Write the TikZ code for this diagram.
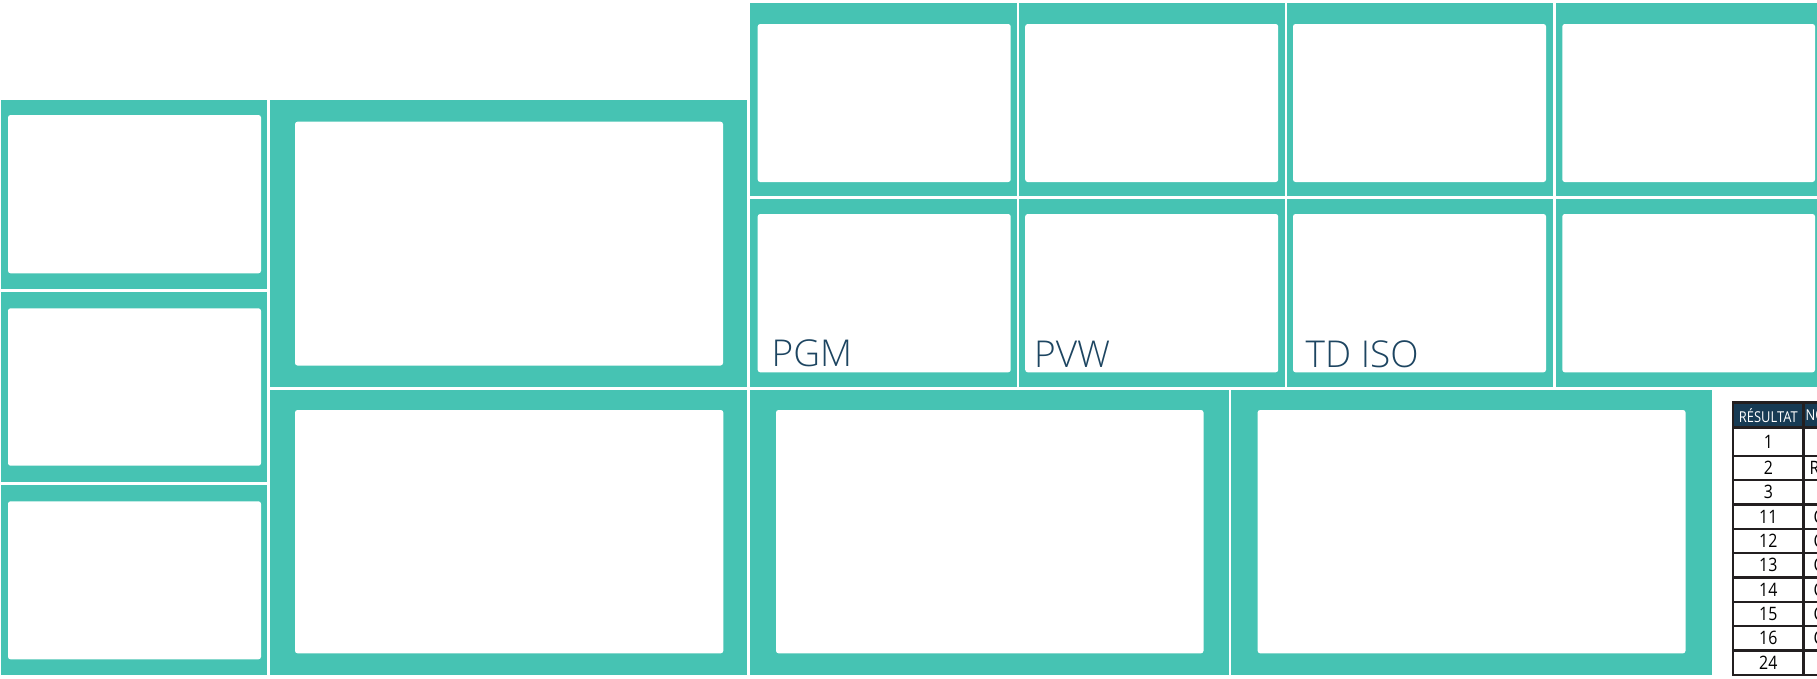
\documentclass[tikz,border=0pt]{standalone}
\usepackage{fontspec}
\setmainfont{Open Sans}
\newfontfamily\lblfont{Open Sans}[UprightFont=* Light]
\newfontfamily\tabfont{Open Sans}[FakeStretch=0.86]
\definecolor{teal}{HTML}{46C3B3}
\definecolor{lblcol}{HTML}{1D4561}
\definecolor{navy}{HTML}{173B54}
\definecolor{tabline}{HTML}{231F20}
\tikzset{
  outerbox/.style={fill=teal},
  innerbox/.style={fill=white, rounded corners=2.5pt},
  lbl/.style={anchor=base west, inner sep=0pt, text=lblcol, font=\lblfont\fontsize{37}{40}\selectfont},
  tabline/.style={draw=tabline, line width=2.5pt},
  hdr/.style={inner sep=0pt, text=white, font=\tabfont\fontsize{15}{17}\selectfont},
  cell/.style={inner sep=0pt, text=black, font=\tabfont\fontsize{18.5}{20}\selectfont},
  cellw/.style={anchor=west, inner sep=0pt, text=black, font=\tabfont\fontsize{18.5}{20}\selectfont}
}
\begin{document}
\begin{tikzpicture}[x=1pt,y=-1pt]
\useasboundingbox (0,0) rectangle (1817,678);
\clip (0,0) rectangle (1817,678);
% left column
\path[outerbox] (1,99.5) rectangle (267.3,289);
\path[innerbox] (8,115) rectangle (261,273.3);
\path[outerbox] (1,291.7) rectangle (267.3,481.7);
\path[innerbox] (8,308.3) rectangle (261,465.7);
\path[outerbox] (1,485.3) rectangle (267.3,675);
\path[innerbox] (8,501.3) rectangle (261,659.3);
% big boxes
\path[outerbox] (269.5,99.5) rectangle (747,387.3);
\path[innerbox] (295,121.7) rectangle (723,365.5);
\path[outerbox] (269.5,390.3) rectangle (747,675);
\path[innerbox] (295,410) rectangle (723.3,653.3);
\path[outerbox] (750,390.3) rectangle (1228.5,675);
\path[innerbox] (776,410) rectangle (1203.5,653.3);
\path[outerbox] (1231.3,390.3) rectangle (1712,675);
\path[innerbox] (1257.6,410) rectangle (1685.5,653.3);
% top grid, row 1
\path[outerbox] (750,3.3) rectangle (1016.5,195.7);
\path[innerbox] (757.7,24) rectangle (1010.7,182);
\path[outerbox] (1019.3,3.3) rectangle (1284.5,195.7);
\path[innerbox] (1025.2,24) rectangle (1278.2,182);
\path[outerbox] (1287.2,3.3) rectangle (1552.8,195.7);
\path[innerbox] (1293,24) rectangle (1546,182);
\path[outerbox] (1555.7,3.3) rectangle (1820,195.7);
\path[innerbox] (1562.3,24) rectangle (1815,182);
% top grid, row 2
\path[outerbox] (750,198.5) rectangle (1016.5,387.3);
\path[innerbox] (757.7,214) rectangle (1010.7,372.3);
\path[outerbox] (1019.3,198.5) rectangle (1284.5,387.3);
\path[innerbox] (1025.2,214) rectangle (1278.2,372.3);
\path[outerbox] (1287.2,198.5) rectangle (1552.8,387.3);
\path[innerbox] (1293,214) rectangle (1546,372.3);
\path[outerbox] (1555.7,198.5) rectangle (1820,387.3);
\path[innerbox] (1562.3,214) rectangle (1815,372.3);
% labels
\node[lbl] (pgm) at (771.5,366.7) {PGM};
\node[lbl] (pvw) at (1034,367.3) {PVW};
\node[lbl] (tdiso) at (1305.5,367) {TD ISO};
% table
\path[fill=navy] (1733,402.7) rectangle (1820,427.5);
\draw[tabline] (1820,402.7) -- (1733.2,402.7) -- (1733.2,674.8) -- (1820,674.8);
\draw[tabline] (1803.5,402.7) -- (1803.5,674.8);
\draw[tabline] (1733.2,427.5) -- (1820,427.5);
\foreach \i in {0,...,8} {
  \draw[tabline] (1733.2,455.8+24.33*\i) -- (1820,455.8+24.33*\i);
}
\node[hdr] (h1) at (1768.3,415.5) {RÉSULTAT};
\node[hdr, anchor=west] (h2) at (1805.5,415.5) {NOM};
\node[cell] (r1) at (1768.3,441.7) {1};
\node[cell] (r2) at (1768.3,468.0) {2};
\node[cell] (r3) at (1768.3,492.3) {3};
\node[cell] (r4) at (1768.3,516.6) {11};
\node[cell] (r5) at (1768.3,540.9) {12};
\node[cell] (r6) at (1768.3,565.3) {13};
\node[cell] (r7) at (1768.3,589.6) {14};
\node[cell] (r8) at (1768.3,613.9) {15};
\node[cell] (r9) at (1768.3,638.3) {16};
\node[cell] (r10) at (1768.3,662.6) {24};
\node[cellw] (c2) at (1809.5,468.0) {R};
\node[cellw] (c4) at (1813.3,516.6) {C};
\node[cellw] (c5) at (1813.3,540.9) {C};
\node[cellw] (c6) at (1813.3,565.3) {C};
\node[cellw] (c7) at (1813.3,589.6) {C};
\node[cellw] (c8) at (1813.3,613.9) {C};
\node[cellw] (c9) at (1813.3,638.3) {C};
\end{tikzpicture}
\end{document}
